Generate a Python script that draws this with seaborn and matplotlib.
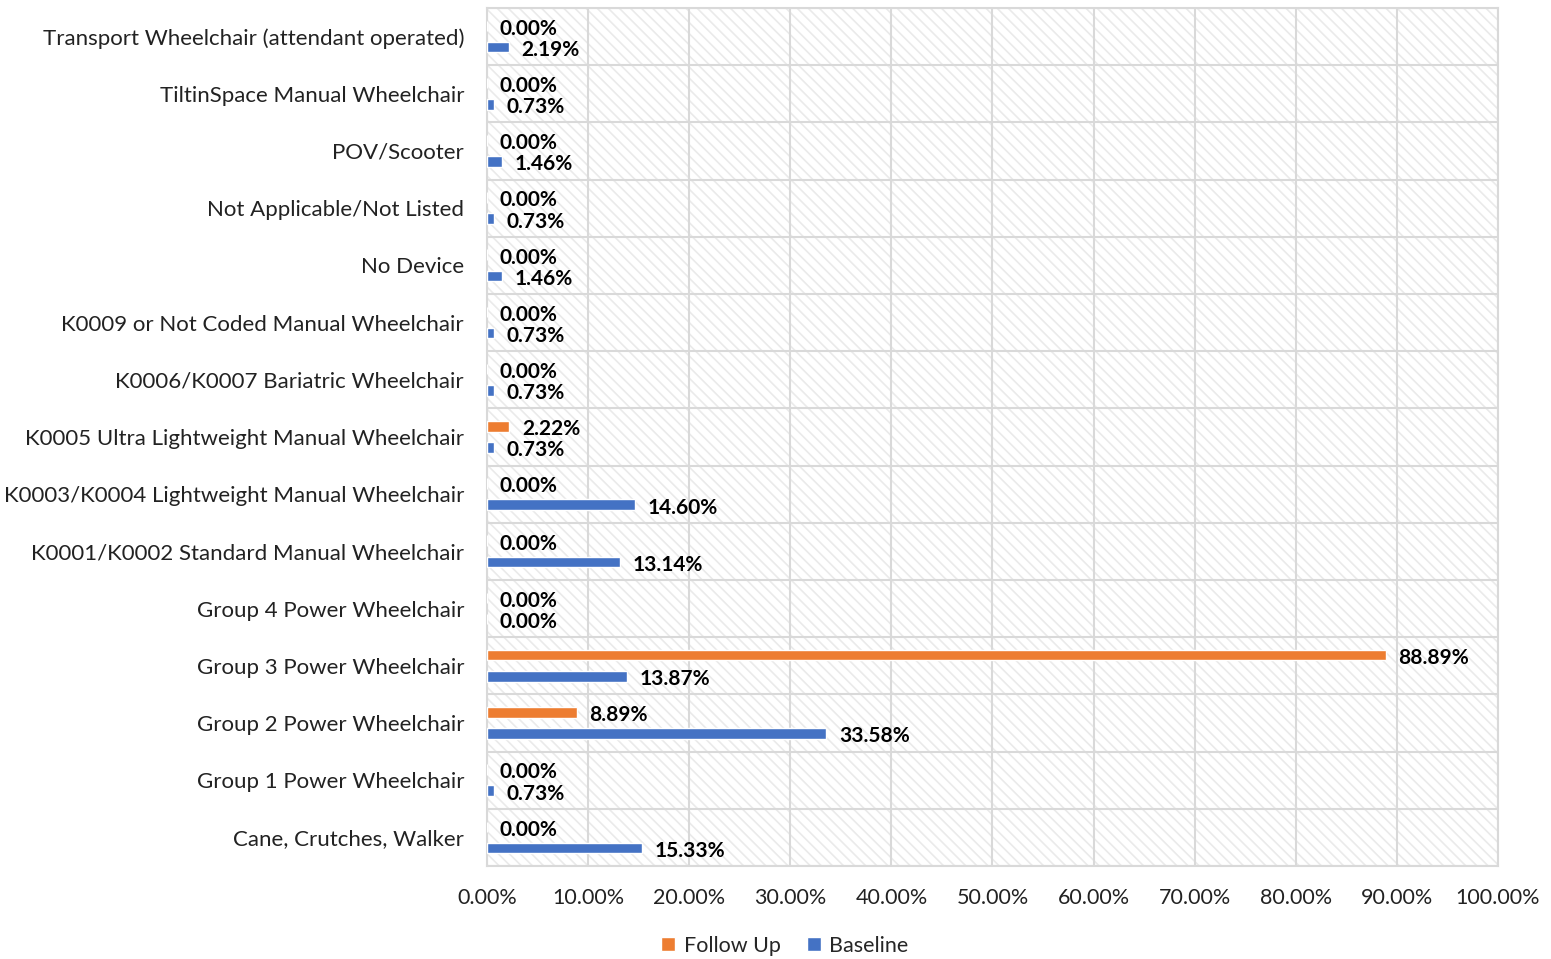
import pandas as pd
import matplotlib.pyplot as plt
import seaborn as sns
from matplotlib.patches import Rectangle

# Device categories, top to bottom as in the chart
categories = [
    "Transport Wheelchair (attendant operated)",
    "TiltinSpace Manual Wheelchair",
    "POV/Scooter",
    "Not Applicable/Not Listed",
    "No Device",
    "K0009 or Not Coded Manual Wheelchair",
    "K0006/K0007 Bariatric Wheelchair",
    "K0005 Ultra Lightweight Manual Wheelchair",
    "K0003/K0004 Lightweight Manual Wheelchair",
    "K0001/K0002 Standard Manual Wheelchair",
    "Group 4 Power Wheelchair",
    "Group 3 Power Wheelchair",
    "Group 2 Power Wheelchair",
    "Group 1 Power Wheelchair",
    "Cane, Crutches, Walker",
]
follow_up = [0, 0, 0, 0, 0, 0, 0, 2.22, 0, 0, 0, 88.89, 8.89, 0, 0]
baseline = [2.19, 0.73, 1.46, 0.73, 1.46, 0.73, 0.73, 0.73, 14.60, 13.14, 0, 13.87, 33.58, 0.73, 15.33]
series = ["Follow Up", "Baseline"]
x_ticks = [0, 10, 20, 30, 40, 50, 60, 70, 80, 90, 100]

df = pd.DataFrame({
    "Device": categories * 2,
    "Series": ["Follow Up"] * len(categories) + ["Baseline"] * len(categories),
    "Percent": follow_up + baseline,
})

sns.set_style("white")
plt.rcParams["font.family"] = ["Lato", "DejaVu Sans"]
plt.rcParams["hatch.linewidth"] = 1.2

fig = plt.figure(figsize=(15.51, 9.59), dpi=100)
ax = fig.add_axes([0.314, 0.097, 0.6518, 0.8947])

# hatched background like the original
ax.add_patch(Rectangle((0, 0), 1, 1, transform=ax.transAxes, facecolor="white",
                       edgecolor="#EAEAEA", hatch="\\\\\\", linewidth=0, zorder=0))

sns.barplot(data=df, y="Device", x="Percent", hue="Series", hue_order=series,
            order=categories, palette=["#ED7D31", "#4472C4"], saturation=1,
            width=0.74, gap=0.5, orient="h", ax=ax, zorder=3, legend=True)

for cont in ax.containers:
    labels = ax.bar_label(cont, labels=["{:.2f}%".format(v) for v in cont.datavalues],
                          padding=9, fontsize=15, fontweight="bold", color="black")
    for t in labels:
        t.set_va("center")
        t.xyann = (9, -2)

ax.set_xlim(0, 100)
ax.set_ylim(len(categories) - 0.5, -0.5)
ax.set_xticks(x_ticks)
ax.set_xticklabels(["{:.2f}%".format(v) for v in x_ticks], fontsize=15.5, color="#222222")
ax.set_yticks(range(len(categories)))
ax.set_yticklabels(categories, fontsize=16, color="#222222")
ax.set_yticks([i - 0.5 for i in range(len(categories) + 1)], minor=True)
ax.tick_params(axis="x", length=0, pad=16)
ax.tick_params(axis="y", which="both", length=0, pad=16.5)
ax.set_xlabel("")
ax.set_ylabel("")

ax.grid(axis="x", color="#D9D9D9", linewidth=1.5, zorder=1)
ax.grid(axis="y", which="minor", color="#D9D9D9", linewidth=1.5, zorder=1)
ax.set_axisbelow(True)
for s in ax.spines.values():
    s.set_color("#D9D9D9")
    s.set_linewidth(1.5)

ax.legend(loc="center", bbox_to_anchor=(0.506, 0.014), bbox_transform=fig.transFigure,
          ncol=2, frameon=False, fontsize=15.5, handlelength=0.65, handleheight=0.65,
          handletextpad=0.4, columnspacing=1.2, borderpad=0)

fig.savefig("out.png", dpi=100)
